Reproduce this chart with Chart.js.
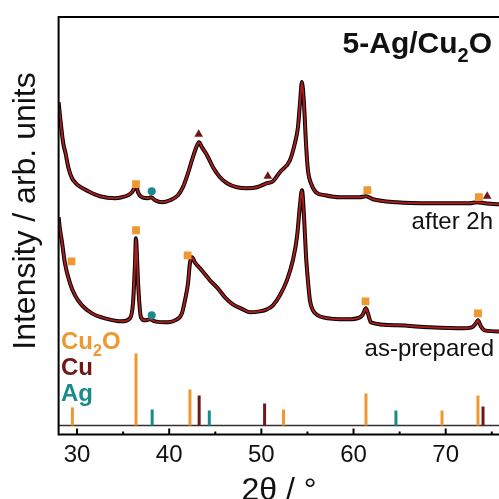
<!DOCTYPE html>
<html>
<head>
<meta charset="utf-8">
<script src="https://cdn.jsdelivr.net/npm/chart.js@4.4.0/dist/chart.umd.min.js"></script>
<style>
  html, body { margin: 0; padding: 0; background: #fff; overflow: hidden; }
  #wrap { width: 499px; height: 499px; overflow: hidden; }
</style>
</head>
<body>
<div id="wrap"><canvas id="xrd" width="510" height="499"></canvas></div>
<script>
// measured patterns, 2theta in degrees, intensity in arb. units (offset stacked)
const after2hTheta = [28.0, 28.2, 28.5, 28.75, 29.05, 29.45, 29.78, 30.1, 31.2, 32.49, 34.12, 34.88, 35.53, 35.96, 36.29, 36.45, 36.61, 37.05, 37.7, 38.02, 38.46, 39.22, 40.09, 40.95, 41.49, 42.04, 42.47, 42.9, 43.23, 43.55, 44.1, 44.75, 45.51, 46.27, 47.35, 48.43, 49.52, 50.6, 51.26, 52.01, 53.1, 53.64, 53.97, 54.19, 54.4, 54.62, 54.84, 55.05, 55.38, 55.92, 56.9, 58.52, 60.69, 61.34, 62.1, 64.7, 68.28, 72.62, 73.38, 74.25, 75.77, 76.0];
const after2hInt = [323, 305, 282, 272, 258, 247, 243, 240, 234, 229, 227, 228, 230, 233, 238, 239, 233, 228, 227, 228, 225, 223, 225, 230, 238, 252, 265, 277, 283, 278, 270, 258, 248, 242, 238, 237, 238, 242, 244, 253, 265, 282, 298, 322, 343, 322, 282, 255, 242, 233, 230, 228, 228, 229, 226, 223, 222, 222, 223, 222, 221, 221];

const asPrepTheta = [28.0, 28.16, 28.34, 28.69, 29.24, 29.78, 30.54, 31.62, 33.03, 34.88, 35.74, 36.07, 36.29, 36.39, 36.5, 36.61, 36.94, 37.37, 37.91, 38.46, 39.54, 40.63, 41.38, 41.71, 42.04, 42.25, 42.47, 42.79, 43.34, 43.88, 44.42, 45.18, 46.05, 46.91, 48.0, 48.76, 49.84, 50.6, 51.26, 52.01, 52.77, 53.42, 53.86, 54.19, 54.4, 54.62, 54.84, 55.05, 55.27, 55.6, 56.14, 56.68, 59.29, 60.69, 61.02, 61.34, 61.56, 61.89, 64.7, 68.28, 71.86, 72.84, 73.27, 73.49, 73.82, 74.25, 75.77, 76.0];
const asPrepInt = [208, 195, 185, 162, 142, 130, 120, 112, 107, 104, 107, 122, 162, 187, 170, 145, 108, 105, 106, 104, 103, 105, 112, 125, 142, 162, 168, 163, 157, 151, 145, 138, 128, 121, 116, 113, 114, 116, 120, 130, 145, 165, 188, 220, 235, 210, 170, 145, 125, 115, 110, 108, 106, 108, 111, 117, 112, 103, 100, 98, 97, 98, 102, 105, 99, 95, 94, 94];

// reference stick patterns
const cu2oPos = [29.5, 36.4, 42.25, 52.4, 61.35, 69.6, 73.5];
const cu2oInt = [18, 72, 36, 16, 32, 15, 30];
const cuPos = [43.25, 50.35, 74.05];
const cuInt = [30, 22, 19];
const agPos = [38.15, 44.35, 64.6];
const agInt = [16, 15, 15];

// phase markers above the peaks
const markCu2oTheta = [36.4, 61.5, 73.6, 29.4, 36.4, 42.0, 61.3, 73.5];
const markCu2oY = [241, 235, 228, 164, 195, 170, 124, 112];
const markCuTheta = [43.2, 50.7, 74.5];
const markCuY = [291, 249, 229];
const markAgTheta = [38.1, 38.1];
const markAgY = [234, 110];

const xTickLabels = [30, 40, 50, 60, 70];

const ORANGE = '#EE982F';
const DARKRED = '#701818';
const TEAL = '#1A8A8C';
const FIT = '#A81E1E';

const pts = (xs, ys) => xs.map((x, i) => ({ x: x, y: ys[i] }));

function sticks(pos, h) {
  const out = [];
  pos.forEach((p, i) => {
    out.push({ x: p, y: 0 }, { x: p, y: h[i] }, { x: p, y: null });
  });
  return out;
}

function curve(data, color, width, order) {
  return {
    type: 'line', data: data, borderColor: color, borderWidth: width,
    pointRadius: 0, fill: false, cubicInterpolationMode: 'monotone', order: order
  };
}

function stickSet(data, color) {
  return {
    type: 'line', data: data, borderColor: color, borderWidth: 3,
    pointRadius: 0, spanGaps: false, borderCapStyle: 'butt', order: 3
  };
}

function markSet(data, color, style, r) {
  return {
    type: 'scatter', data: data, pointStyle: style, pointRadius: r,
    backgroundColor: color, borderColor: color, borderWidth: 0, order: 0
  };
}

// draws a label with a subscripted "2"
function drawFormula(ctx, parts, x, y, size, bold, align) {
  const w = bold ? 'bold ' : '';
  const main = w + size + 'px "Liberation Sans"';
  const sub = w + Math.round(size * 0.68) + 'px "Liberation Sans"';
  let total = 0;
  parts.forEach(p => { ctx.font = p.sub ? sub : main; total += ctx.measureText(p.t).width; });
  let cx = align === 'right' ? x - total : x;
  ctx.textAlign = 'left';
  parts.forEach(p => {
    ctx.font = p.sub ? sub : main;
    ctx.fillText(p.t, cx, p.sub ? y + size * 0.3 : y);
    cx += ctx.measureText(p.t).width;
  });
}

const decorations = {
  id: 'decorations',
  afterDraw(chart) {
    const { ctx, chartArea: a, scales: { x } } = chart;
    ctx.save();
    ctx.strokeStyle = '#000';
    ctx.lineWidth = 2;
    ctx.beginPath();
    ctx.moveTo(a.left, a.bottom);
    ctx.lineTo(a.left, a.top);
    ctx.lineTo(a.right + 20, a.top);
    ctx.moveTo(a.left - 1, a.bottom);
    ctx.lineTo(a.right + 20, a.bottom);
    ctx.stroke();

    // inward ticks
    ctx.lineWidth = 2;
    for (let v = 30; v <= 75; v += 5) {
      const px = x.getPixelForValue(v);
      const len = v % 10 === 0 ? 6 : 3;
      ctx.beginPath();
      ctx.moveTo(px, a.bottom);
      ctx.lineTo(px, a.bottom - len);
      ctx.stroke();
    }

    ctx.fillStyle = '#111';
    ctx.font = '24px "Liberation Sans"';
    ctx.textAlign = 'center';
    ctx.textBaseline = 'alphabetic';
    xTickLabels.forEach(v => ctx.fillText(String(v), x.getPixelForValue(v), 462));

    ctx.font = '32px "Liberation Sans"';
    ctx.fillText('2θ / °', 279, 500);

    ctx.save();
    ctx.translate(35, 211);
    ctx.rotate(-Math.PI / 2);
    ctx.fillText('Intensity / arb. units', 0, 0);
    ctx.restore();

    ctx.font = '24px "Liberation Sans"';
    ctx.textAlign = 'right';
    ctx.fillText('after 2h', 493, 229);
    ctx.fillText('as-prepared', 494, 356);

    drawFormula(ctx, [{ t: '5-Ag/Cu' }, { t: '2', sub: true }, { t: 'O' }], 492, 53, 30, true, 'right');

    ctx.fillStyle = ORANGE;
    drawFormula(ctx, [{ t: 'Cu' }, { t: '2', sub: true }, { t: 'O' }], 61, 349, 24, true, 'left');
    ctx.fillStyle = DARKRED;
    ctx.font = 'bold 24px "Liberation Sans"';
    ctx.textAlign = 'left';
    ctx.fillText('Cu', 61, 375);
    ctx.fillStyle = TEAL;
    ctx.fillText('Ag', 61, 401);
    ctx.restore();
  }
};

new Chart(document.getElementById('xrd'), {
  type: 'line',
  data: {
    datasets: [
      markSet(pts(markCu2oTheta, markCu2oY), ORANGE, 'rect', 5.5),
      markSet(pts(markCuTheta, markCuY), DARKRED, 'triangle', 5),
      markSet(pts(markAgTheta, markAgY), TEAL, 'circle', 4),
      curve(pts(after2hTheta, after2hInt), FIT, 2, 1),
      curve(pts(asPrepTheta, asPrepInt), FIT, 2, 1),
      curve(pts(after2hTheta, after2hInt), '#000', 4, 2),
      curve(pts(asPrepTheta, asPrepInt), '#000', 4, 2),
      stickSet(sticks(cu2oPos, cu2oInt), ORANGE),
      stickSet(sticks(cuPos, cuInt), DARKRED),
      stickSet(sticks(agPos, agInt), TEAL),
      {
        type: 'line', data: [{ x: 28, y: 0 }, { x: 76, y: 0 }],
        borderColor: '#333', borderWidth: 1.5, pointRadius: 0, order: 4
      }
    ]
  },
  options: {
    responsive: false,
    animation: false,
    layout: { padding: { left: 58.6, top: 17, right: 9, bottom: 64.5 } },
    plugins: { legend: { display: false }, tooltip: { enabled: false } },
    scales: {
      x: { type: 'linear', min: 28, max: 76, display: false },
      y: { type: 'linear', min: -9, max: 408, display: false }
    }
  },
  plugins: [decorations]
});
</script>
</body>
</html>
